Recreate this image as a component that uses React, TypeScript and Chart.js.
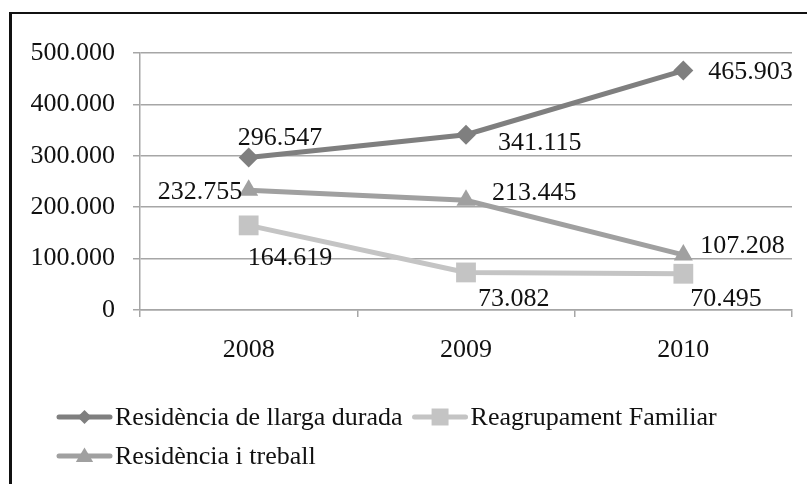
import React, { useEffect, useRef } from 'react';
import { Chart, registerables } from 'chart.js';

Chart.register(...registerables);

// ---- data ----
const categories = ['2008', '2009', '2010'];
const seriesNames = ['Residència de llarga durada', 'Reagrupament Familiar', 'Residència i treball'];
const llargaDurada = [296547, 341115, 465903];
const reagrupament = [164619, 73082, 70495];
const treball = [232755, 213445, 107208];
const yTicks = [0, 100000, 200000, 300000, 400000, 500000];

// ---- styles ----
const FONT = '"Liberation Serif", "Times New Roman", serif';
const FONT_SIZE = 26;
const TEXT = '#111111';
const GRID = '#a6a6a6';

const seriesStyles = [
  { color: '#7f7f7f', point: 'rectRot', radius: 10, legendRadius: 7 },
  { color: '#c4c4c4', point: 'rect', radius: 14, legendRadius: 12 },
  { color: '#a0a0a0', point: 'triangle', radius: 11, legendRadius: 10 },
];

// label offsets in px from each point (left-aligned text, vertically centred)
const labelOffsets = [
  [[-11, -19], [32, 9], [25, 2]],
  [[-1, 33], [12, 27], [7, 25]],
  [[-91, 2], [26, -7], [17, -9]],
];

// legend layout: rows of series indices
const legendRows = [[0, 1], [2]];
const LEGEND_X = 57;
const LEGEND_Y = [417, 456];
const LEGEND_LINE = 55;
const LEGEND_GAP = 10;

const fmt = (v: number) => String(v).replace(/\B(?=(\d{3})+(?!\d))/g, '.');

function drawMarker(ctx: CanvasRenderingContext2D, type: string, r: number, x: number, y: number) {
  ctx.beginPath();
  if (type === 'rectRot') {
    ctx.moveTo(x - r, y);
    ctx.lineTo(x, y - r);
    ctx.lineTo(x + r, y);
    ctx.lineTo(x, y + r);
  } else if (type === 'rect') {
    const s = Math.SQRT1_2 * r;
    ctx.rect(x - s, y - s, 2 * s, 2 * s);
  } else {
    const h = (Math.sqrt(3) / 2) * r;
    ctx.moveTo(x, y - r * 0.85);
    ctx.lineTo(x + h, y + r * 0.6);
    ctx.lineTo(x - h, y + r * 0.6);
  }
  ctx.closePath();
  ctx.fill();
}

const dataLabelPlugin = {
  id: 'dataLabels',
  afterDatasetsDraw(chart: any) {
    const ctx = chart.ctx;
    ctx.save();
    ctx.font = `${FONT_SIZE}px ${FONT}`;
    ctx.fillStyle = TEXT;
    ctx.textAlign = 'left';
    ctx.textBaseline = 'middle';
    chart.data.datasets.forEach((ds: any, di: number) => {
      const meta = chart.getDatasetMeta(di);
      meta.data.forEach((el: any, i: number) => {
        const [dx, dy] = labelOffsets[di][i];
        ctx.fillText(fmt(ds.data[i]), el.x + dx, el.y + dy);
      });
    });
    ctx.restore();
  },
};

const legendPlugin = {
  id: 'customLegend',
  afterDraw(chart: any) {
    const ctx = chart.ctx;
    ctx.save();
    ctx.font = `${FONT_SIZE}px ${FONT}`;
    ctx.textBaseline = 'middle';
    ctx.textAlign = 'left';
    legendRows.forEach((row, ri) => {
      let x = LEGEND_X;
      const y = LEGEND_Y[ri];
      row.forEach((si) => {
        const st = seriesStyles[si];
        ctx.strokeStyle = st.color;
        ctx.lineWidth = 5;
        ctx.lineCap = 'round';
        ctx.beginPath();
        ctx.moveTo(x + 2, y);
        ctx.lineTo(x + LEGEND_LINE - 2, y);
        ctx.stroke();
        ctx.fillStyle = st.color;
        drawMarker(ctx, st.point, st.legendRadius, x + LEGEND_LINE / 2, y);
        ctx.fillStyle = TEXT;
        const tx = x + LEGEND_LINE + 3;
        ctx.fillText(seriesNames[si], tx, y + 1);
        x = tx + ctx.measureText(seriesNames[si]).width + LEGEND_GAP;
      });
    });
    ctx.restore();
  },
};

export default function App() {
  const ref = useRef<HTMLCanvasElement>(null);

  useEffect(() => {
    if (!ref.current) return;
    const series = [llargaDurada, reagrupament, treball];
    const chart = new Chart(ref.current, {
      type: 'line',
      data: {
        labels: categories,
        datasets: series.map((d, i) => ({
          label: seriesNames[i],
          data: d,
          borderColor: seriesStyles[i].color,
          backgroundColor: seriesStyles[i].color,
          pointBackgroundColor: seriesStyles[i].color,
          pointBorderColor: seriesStyles[i].color,
          pointBorderWidth: 0,
          borderWidth: 5,
          pointStyle: seriesStyles[i].point as any,
          pointRadius: seriesStyles[i].radius,
          tension: 0,
          fill: false,
          order: 3 - i,
        })),
      },
      options: {
        responsive: false,
        animation: false,
        events: [],
        layout: { padding: { left: 0, top: 53, right: 15, bottom: 0 } },
        plugins: {
          legend: { display: false },
          tooltip: { enabled: false },
          title: { display: false },
        },
        scales: {
          x: {
            type: 'category',
            offset: true,
            grid: {
              offset: true,
              drawOnChartArea: false,
              drawTicks: true,
              tickLength: 7,
              color: GRID,
              lineWidth: 1.5,
            },
            border: { display: true, color: GRID, width: 1.5 },
            ticks: {
              color: TEXT,
              font: { family: FONT, size: FONT_SIZE },
              padding: 18,
              maxRotation: 0,
            },
            afterFit: (scale: any) => {
              scale.height = 174;
            },
          },
          y: {
            min: 0,
            max: 500000,
            afterBuildTicks: (scale: any) => {
              scale.ticks = yTicks.map((v) => ({ value: v }));
            },
            grid: {
              drawTicks: true,
              tickLength: 7,
              color: GRID,
              lineWidth: 1.5,
            },
            border: { display: true, color: GRID, width: 1.5 },
            ticks: {
              color: TEXT,
              font: { family: FONT, size: FONT_SIZE },
              padding: 18,
              callback: (v: any) => (Number(v) === 0 ? '0' : fmt(Number(v))),
            },
            afterFit: (scale: any) => {
              scale.width = 140;
            },
          },
        },
      },
      plugins: [dataLabelPlugin, legendPlugin],
    });
    return () => chart.destroy();
  }, []);

  return (
    <div
      style={{
        position: 'fixed',
        left: 0,
        top: 0,
        width: 807,
        height: 484,
        overflow: 'hidden',
        background: '#fff',
      }}
    >
      <div
        style={{
          position: 'absolute',
          left: 9,
          top: 12,
          width: 900,
          height: 700,
          borderLeft: '3px solid #111',
          borderTop: '2px solid #111',
          boxSizing: 'border-box',
        }}
      />
      <canvas
        ref={ref}
        width={807}
        height={484}
        style={{ position: 'absolute', left: 0, top: 0, width: 807, height: 484 }}
      />
    </div>
  );
}
